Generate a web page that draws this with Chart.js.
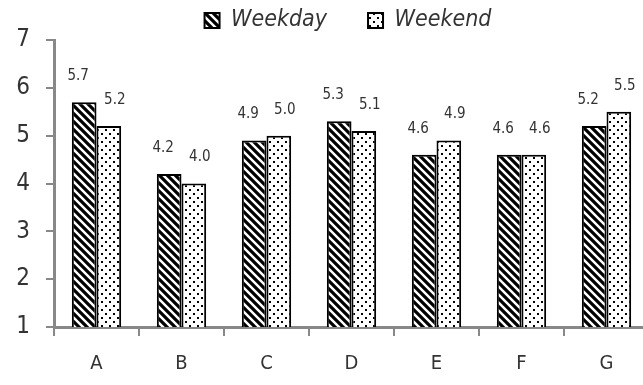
<!DOCTYPE html>
<html>
<head>
<meta charset="utf-8">
<script src="https://cdn.jsdelivr.net/npm/chart.js@4/dist/chart.umd.min.js"></script>
<style>
  html, body { margin: 0; padding: 0; background: #fff; overflow: hidden; }
  #wrap { position: relative; width: 696px; height: 385px; }
</style>
</head>
<body>
<div id="wrap"><canvas id="myChart"></canvas></div>
<script>
const categories = ['A', 'B', 'C', 'D', 'E', 'F', 'G'];
const weekday = [5.7, 4.2, 4.9, 5.3, 4.6, 4.6, 5.2];
const weekend = [5.2, 4.0, 5.0, 5.1, 4.9, 4.6, 5.5];
const yTicks = [1, 2, 3, 4, 5, 6, 7];

const fontName = '"DejaVu Sans Condensed", "DejaVu Sans", sans-serif';

// motif hachuré (diagonales noires)
function stripePattern() {
    const c = document.createElement('canvas');
    c.width = 8; c.height = 8;
    const g = c.getContext('2d');
    g.fillStyle = '#fff';
    g.fillRect(0, 0, 8, 8);
    g.strokeStyle = '#000';
    g.lineWidth = 3.2;
    g.beginPath();
    g.moveTo(-2, -2); g.lineTo(10, 10);
    g.moveTo(-10, -2); g.lineTo(2, 10);
    g.moveTo(6, -2); g.lineTo(18, 10);
    g.stroke();
    return g.createPattern(c, 'repeat');
}

// motif pointillé
function dotPattern() {
    const c = document.createElement('canvas');
    c.width = 8; c.height = 8;
    const g = c.getContext('2d');
    g.fillStyle = '#fff';
    g.fillRect(0, 0, 8, 8);
    g.fillStyle = '#000';
    g.fillRect(1, 1, 2, 2);
    g.fillRect(5, 5, 2, 2);
    return g.createPattern(c, 'repeat');
}

const valueLabels = {
    id: 'valueLabels',
    afterDatasetsDraw(chart) {
        const ctx = chart.ctx;
        ctx.save();
        ctx.font = '15px ' + fontName;
        ctx.fillStyle = '#333';
        ctx.textAlign = 'center';
        ctx.textBaseline = 'middle';
        chart.data.datasets.forEach((ds, i) => {
            const shift = i === 0 ? -6 : 6;
            chart.getDatasetMeta(i).data.forEach((bar, j) => {
                ctx.fillText(ds.data[j].toFixed(1), bar.x + shift, bar.y - 26);
            });
        });
        ctx.restore();
    }
};

// la légende garde un grand écart entre les items mais reste basse
const legendFit = {
    id: 'legendFit',
    beforeLayout(chart) {
        const lg = chart.legend;
        if (lg && !lg._fitWrapped) {
            const fit = lg.fit.bind(lg);
            lg.fit = function () { fit(); this.height = 40; };
            lg._fitWrapped = true;
        }
    },
    beforeDraw(chart) {
        chart.legend.top = -32;
        chart.legend.bottom = 40;
    }
};

const ctx = document.getElementById('myChart');

new Chart(ctx, {
    type: 'bar',
    data: {
        labels: categories,
        datasets: [{
            label: 'Weekday',
            data: weekday,
            backgroundColor: stripePattern(),
            borderColor: '#000',
            borderWidth: 2,
            borderSkipped: false
        }, {
            label: 'Weekend',
            data: weekend,
            backgroundColor: dotPattern(),
            borderColor: '#000',
            borderWidth: 2,
            borderSkipped: false
        }]
    },
    options: {
        responsive: true,
        maintainAspectRatio: false,
        animation: false,
        layout: { padding: 0 },
        datasets: {
            bar: { categoryPercentage: 0.58, barPercentage: 1.0 }
        },
        plugins: {
            tooltip: { enabled: false },
            legend: {
                position: 'top',
                labels: {
                    boxWidth: 15,
                    boxHeight: 15,
                    padding: 41,
                    color: '#333',
                    font: { family: fontName, size: 23, style: 'italic' }
                }
            }
        },
        scales: {
            x: {
                afterFit(s) { s.height = 58; },
                grid: {
                    offset: true,
                    drawOnChartArea: false,
                    drawTicks: true,
                    tickLength: 9,
                    color: '#888',
                    lineWidth: 2
                },
                border: { color: '#888', width: 3 },
                ticks: {
                    color: '#333',
                    padding: 16,
                    font: { family: fontName, size: 20 }
                }
            },
            y: {
                min: yTicks[0],
                max: yTicks[yTicks.length - 1],
                afterFit(s) { s.width = 54; },
                afterBuildTicks(axis) {
                    axis.ticks = yTicks.map(v => ({ value: v }));
                },
                grid: {
                    drawOnChartArea: false,
                    drawTicks: true,
                    tickLength: 8,
                    color: '#888',
                    lineWidth: 2
                },
                border: { color: '#888', width: 3 },
                ticks: {
                    color: '#333',
                    padding: 16,
                    font: { family: fontName, size: 24 }
                }
            },
            // axe vide à droite, garde la zone du graphique à la bonne largeur
            yRight: {
                position: 'right',
                afterFit(s) { s.width = 47; },
                grid: { display: false },
                border: { display: false },
                ticks: { display: false }
            }
        }
    },
    plugins: [valueLabels, legendFit]
});
</script>
</body>
</html>
